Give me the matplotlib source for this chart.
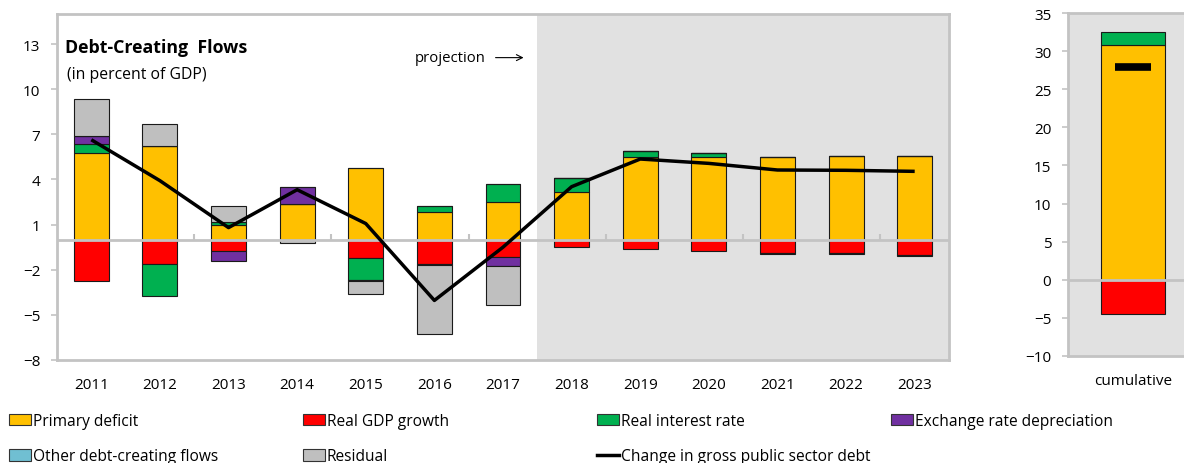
import numpy as np
import matplotlib
matplotlib.use("Agg")
import matplotlib.pyplot as plt
from matplotlib.patches import Patch
from matplotlib.lines import Line2D

plt.rcParams['font.family'] = ['Open Sans', 'DejaVu Sans']

# data
years = ['2011', '2012', '2013', '2014', '2015', '2016', '2017',
         '2018', '2019', '2020', '2021', '2022', '2023']
primary = [5.73, 6.24, 1.00, 2.35, 4.76, 1.82, 2.53, 3.19, 5.49, 5.47, 5.49, 5.56, 5.56]
gdp_growth = [-2.73, -1.65, -0.76, 0.0, -1.23, -1.60, -1.12, -0.48, -0.59, -0.76, -0.90, -0.92, -1.02]
interest = [0.62, -2.12, 0.18, 0.0, -1.44, 0.42, 1.15, 0.91, 0.42, 0.31, -0.05, -0.05, -0.05]
fx_dep = [0.51, 0.0, -0.67, 1.13, -0.10, -0.08, -0.66, 0.0, 0.0, 0.0, 0.0, 0.0, 0.0]
other_flows = [0.0] * 13
residual = [2.48, 1.42, 1.04, -0.19, -0.86, -4.60, -2.59, 0.0, 0.0, 0.0, 0.0, 0.0, 0.0]
debt_change = [6.64, 3.92, 0.80, 3.32, 1.07, -4.04, -0.50, 3.52, 5.36, 5.07, 4.63, 4.61, 4.54]

# cumulative over projection period
cum_primary = 30.8
cum_gdp = -4.5
cum_interest = 1.7
cum_change = 27.9

labels = ['Primary deficit', 'Real GDP growth', 'Real interest rate',
          'Exchange rate depreciation', 'Other debt-creating flows', 'Residual']
colors = ['#FFC000', '#FF0000', '#00B050', '#7030A0', '#70BFD2', '#BFBFBF']
series = [primary, gdp_growth, interest, fx_dep, other_flows, residual]

frame_col = '#C3C3C3'
shade = '#E1E1E1'

fig = plt.figure(figsize=(11.84, 4.64), dpi=100)

# ---- main panel ----
ax = fig.add_axes([57 / 1184, 103 / 464, 892 / 1184, 346 / 464])
x = np.arange(len(years))
pos_base = np.zeros(len(years))
neg_base = np.zeros(len(years))
for vals, col in zip(series, colors):
    v = np.array(vals)
    bottoms = np.where(v >= 0, pos_base, neg_base)
    ax.bar(x, v, 0.51, bottom=bottoms, color=col, edgecolor='#1a1a1a',
           linewidth=0.8, zorder=3)
    pos_base = pos_base + np.where(v > 0, v, 0)
    neg_base = neg_base + np.where(v < 0, v, 0)

ax.axvspan(6.5, 12.5, color=shade, zorder=0, lw=0)
ax.axhline(0, color=frame_col, lw=2, zorder=4)
ax.vlines(np.arange(1.5, 12, 2), 0, 0.35, color=frame_col, lw=1.5, zorder=4)
ax.plot(x, debt_change, color='black', lw=2.5, zorder=5,
        solid_capstyle='butt')

ax.set_xlim(-0.5, 12.5)
ax.set_ylim(-8, 15)
ax.set_yticks([-8, -5, -2, 1, 4, 7, 10, 13])
ax.set_xticks(x)
ax.set_xticklabels(years)
ax.tick_params(axis='x', length=0, pad=12, labelsize=11)
ax.tick_params(axis='y', length=4, width=1.2, color=frame_col, labelsize=11, pad=8)
for sp in ax.spines.values():
    sp.set_color(frame_col)
    sp.set_linewidth(2)

ax.text(0.009, 0.905, 'Debt-Creating  Flows', transform=ax.transAxes,
        fontsize=12.8, fontweight='bold', va='center')
ax.text(0.011, 0.827, '(in percent of GDP)', transform=ax.transAxes,
        fontsize=11.3, va='center')
ax.annotate('projection', xy=(6.3, 12.1), xytext=(5.75, 12.1),
            fontsize=10.7, va='center', ha='right',
            arrowprops=dict(arrowstyle='->', lw=0.8, color='black',
                            shrinkA=5, shrinkB=0))

# ---- cumulative panel ----
ax2 = fig.add_axes([1068 / 1184, 107 / 464, 130 / 1184, 343 / 464])
ax2.set_facecolor(shade)
ax2.bar([0], [cum_primary], 0.49, color=colors[0], edgecolor='#1a1a1a', lw=0.8, zorder=3)
ax2.bar([0], [cum_interest], 0.49, bottom=[cum_primary], color=colors[2],
        edgecolor='#1a1a1a', lw=0.8, zorder=3)
ax2.bar([0], [cum_gdp], 0.49, color=colors[1], edgecolor='#1a1a1a', lw=0.8, zorder=3)
ax2.axhline(0, color=frame_col, lw=2, zorder=4)
ax2.plot([0], [cum_change], marker='_', ms=26, mew=5.5, color='black', zorder=5)
ax2.set_xlim(-0.5, 0.5)
ax2.set_ylim(-10, 35)
ax2.set_yticks(range(-10, 36, 5))
ax2.set_xticks([0])
ax2.set_xticklabels(['cumulative'])
ax2.tick_params(axis='x', length=0, pad=12, labelsize=11)
ax2.tick_params(axis='y', length=4, width=1.2, color=frame_col, labelsize=11, pad=8)
for sp in ax2.spines.values():
    sp.set_color(frame_col)
    sp.set_linewidth(2)

# ---- legend, one block per column ----
handles = [Patch(facecolor=c, edgecolor='#333333', lw=0.8) for c in colors]
line_h = Line2D([0], [0], color='black', lw=2.5)
cols = [
    ([handles[0], handles[4]], [labels[0], labels[4]]),
    ([handles[1], handles[5]], [labels[1], labels[5]]),
    ([handles[2], line_h], [labels[2], 'Change in gross public sector debt']),
    ([handles[3]], [labels[3]]),
]
for i, (hs, ls) in enumerate(cols):
    fig.legend(hs, ls, loc='upper left',
               bbox_to_anchor=((9 + i * 294) / 1184, 1 - 414 / 464),
               frameon=False, fontsize=11.2, handlelength=1.42, handleheight=0.78,
               handletextpad=0.1, labelspacing=1.24, borderpad=0, borderaxespad=0)

fig.savefig('out.png', dpi=100)
